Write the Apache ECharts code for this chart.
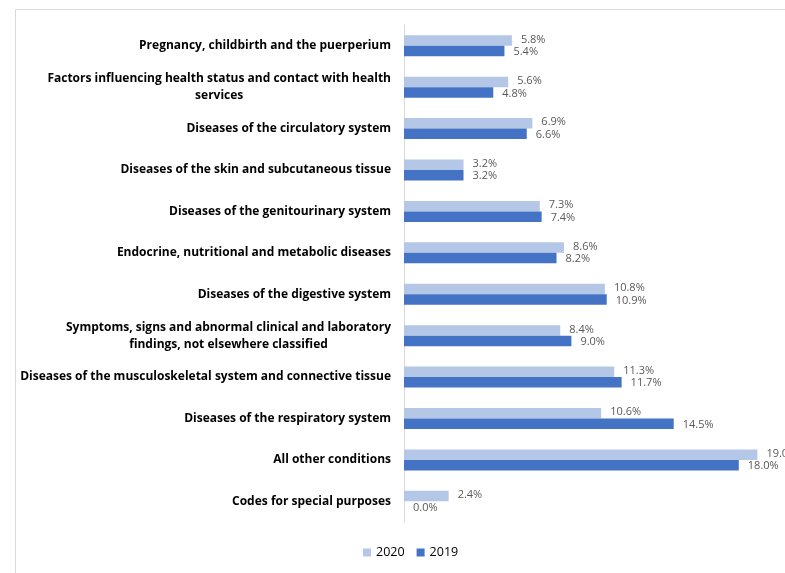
<!DOCTYPE html>
<html>
<head>
<meta charset="utf-8">
<script src="https://cdn.jsdelivr.net/npm/echarts@6/dist/echarts.min.js"></script>
<style>
  html, body { margin: 0; padding: 0; background: #fff; }
  #chart { width: 785px; height: 573px; }
</style>
</head>
<body>
<div id="chart"></div>
<script>
const categories = [
  'Pregnancy, childbirth and the puerperium',
  'Factors influencing health status and contact with health\nservices',
  'Diseases of the circulatory system',
  'Diseases of the skin and subcutaneous tissue',
  'Diseases of the genitourinary system',
  'Endocrine, nutritional and metabolic diseases',
  'Diseases of the digestive system',
  'Symptoms, signs and abnormal clinical and laboratory\nfindings, not elsewhere classified',
  'Diseases of the musculoskeletal system and connective tissue',
  'Diseases of the respiratory system',
  'All other conditions',
  'Codes for special purposes'
];
const values2020 = [5.8, 5.6, 6.9, 3.2, 7.3, 8.6, 10.8, 8.4, 11.3, 10.6, 19.0, 2.4];
const values2019 = [5.4, 4.8, 6.6, 3.2, 7.4, 8.2, 10.9, 9.0, 11.7, 14.5, 18.0, 0.0];

const chart = echarts.init(document.getElementById('chart'));

const labelFont = {
  fontFamily: 'Open Sans',
  fontSize: 11,
  color: '#595959'
};

chart.setOption({
  animation: false,
  graphic: [{
    type: 'rect',
    left: 13,
    top: 7,
    shape: { width: 800, height: 600 },
    style: { fill: 'none', stroke: '#d9d9d9', lineWidth: 1 },
    z: -10
  }],
  grid: { left: 404, right: 9, top: 25, bottom: 51 },
  legend: {
    bottom: 9,
    left: 358,
    itemWidth: 8,
    itemHeight: 8,
    itemGap: 12,
    icon: 'rect',
    textStyle: { fontFamily: 'Open Sans', fontSize: 12.5, color: '#000' },
    data: ['2020', '2019']
  },
  xAxis: {
    type: 'value',
    min: 0,
    max: 20,
    show: false,
    splitLine: { show: false }
  },
  yAxis: {
    type: 'category',
    data: categories,
    inverse: true,
    axisLine: { show: true, lineStyle: { color: '#d9d9d9' } },
    axisTick: { show: false },
    axisLabel: {
      margin: 13,
      formatter: function (v) {
        return v.split('\n').map(function (s) { return '{c|' + s + '}'; }).join('\n');
      },
      rich: {
        c: {
          align: 'center',
          fontFamily: 'Open Sans',
          fontWeight: 'bold',
          fontSize: 12,
          color: '#000',
          lineHeight: 17
        }
      }
    }
  },
  series: [{
    name: '2020',
    type: 'bar',
    data: values2020,
    barWidth: 10.5,
    barGap: '0%',
    itemStyle: { color: '#B4C7E7' },
    label: Object.assign({
      show: true,
      position: 'right',
      distance: 9,
      offset: [0, -1],
      formatter: function (p) { return p.value.toFixed(1) + '%'; }
    }, labelFont)
  }, {
    name: '2019',
    type: 'bar',
    data: values2019,
    barWidth: 10.5,
    barGap: '0%',
    itemStyle: { color: '#4472C4' },
    label: Object.assign({
      show: true,
      position: 'right',
      distance: 9,
      offset: [0, 1],
      formatter: function (p) { return p.value.toFixed(1) + '%'; }
    }, labelFont)
  }]
});
</script>
</body>
</html>
